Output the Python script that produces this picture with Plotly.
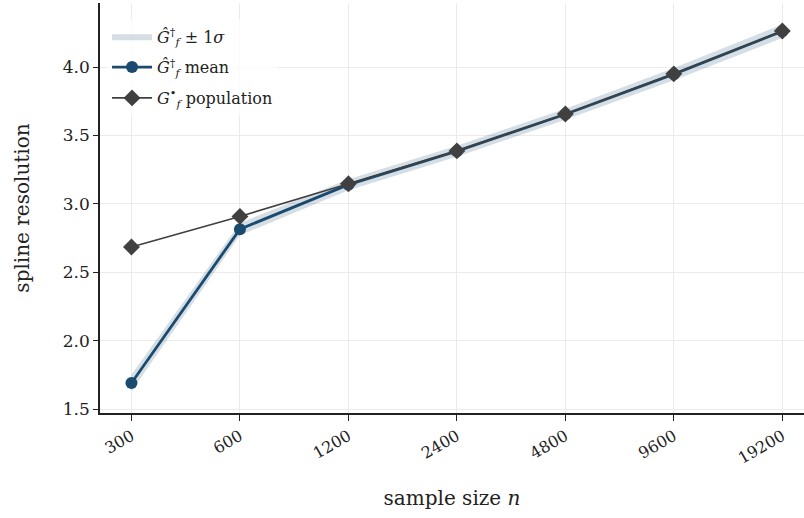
import plotly.graph_objects as go

sizes = ["300", "600", "1200", "2400", "4800", "9600", "19200"]
mean_vals = [1.69, 2.815, 3.14, 3.385, 3.655, 3.948, 4.262]
std_vals = [0.06, 0.045, 0.04, 0.04, 0.04, 0.045, 0.05]
pop_vals = [2.684, 2.908, 3.147, 3.387, 3.657, 3.95, 4.263]

upper = [m + s for m, s in zip(mean_vals, std_vals)]
lower = [m - s for m, s in zip(mean_vals, std_vals)]

FONT = "DejaVu Serif"
MEAN_C = "#1a4a6e"
POP_C = "#404040"

fig = go.Figure()
fig.add_trace(go.Scatter(
    x=sizes + sizes[::-1], y=upper + lower[::-1], fill="toself",
    fillcolor="rgba(26,74,110,0.18)", line=dict(width=0), mode="lines",
    legendgroup="a",
    name="<i>G\u0302</i><sup>†</sup><sub><i>f</i></sub> ± 1<i>σ</i>", hoverinfo="skip"))
fig.add_trace(go.Scatter(
    x=sizes, y=mean_vals, mode="lines+markers", legendgroup="b",
    line=dict(color=MEAN_C, width=2.8), marker=dict(symbol="circle", size=12, color=MEAN_C),
    name="<i>G\u0302</i><sup>†</sup><sub><i>f</i></sub> mean"))
fig.add_trace(go.Scatter(
    x=sizes, y=pop_vals, mode="lines+markers", legendgroup="c",
    line=dict(color=POP_C, width=1.6), marker=dict(symbol="diamond", size=13, color=POP_C),
    name="<i>G</i><sup>•</sup><sub><i>f</i></sub> population"))

fig.update_layout(
    width=804, height=518,
    margin=dict(l=100, r=0, t=3, b=105),
    plot_bgcolor="white", paper_bgcolor="white",
    font=dict(family=FONT, size=16, color="#222"),
    showlegend=True,
    legend=dict(x=0.01, y=0.96, xanchor="left", yanchor="top", bgcolor="rgba(255,255,255,0.8)",
                font=dict(size=16, family=FONT), tracegroupgap=7, itemwidth=40),
    xaxis=dict(type="category", categoryorder="array", categoryarray=sizes,
               range=[-0.29, 6.2], showgrid=True, gridcolor="#ebebeb", gridwidth=1,
               showline=True, linecolor="#222", linewidth=1.5, ticks="outside", ticklen=6,
               tickcolor="#222", tickangle=-30, tickfont=dict(size=16),
               title=dict(text="sample size <i>n</i>", font=dict(size=20), standoff=24),
               zeroline=False),
    yaxis=dict(range=[1.471, 4.468], tickvals=[1.5, 2.0, 2.5, 3.0, 3.5, 4.0],
               ticktext=["1.5", "2.0", "2.5", "3.0", "3.5", "4.0"],
               showgrid=True, gridcolor="#ebebeb", gridwidth=1,
               showline=True, linecolor="#222", linewidth=1.5, ticks="outside", ticklen=5,
               tickcolor="#222", tickfont=dict(size=17),
               title=dict(text="spline resolution", font=dict(size=20), standoff=28),
               zeroline=False),
)
fig.write_html("out.html")
